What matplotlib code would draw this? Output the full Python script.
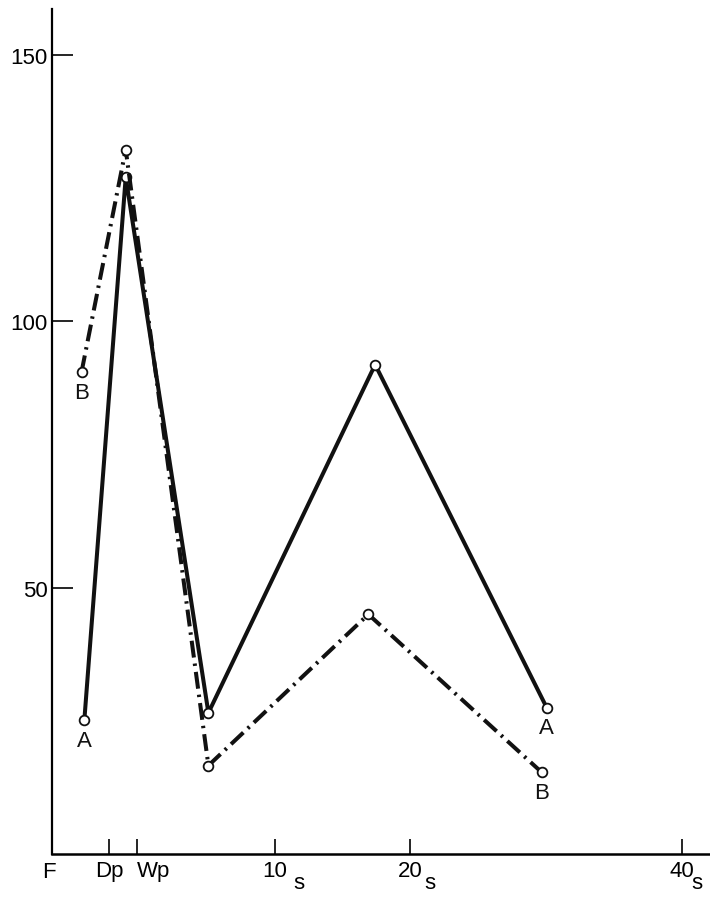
import numpy as np
import matplotlib
matplotlib.use('Agg')
import matplotlib.pyplot as plt

# x in seconds after Wp (F and Dp sit left of zero)
tick_pos = [-6.45, -2.2, -0.15, 10, 20, 40]
tick_lab = ['F', 'Dp', 'Wp', '10', '20', '40']
sec_ticks = [10, 20, 40]
sub_shift = [17, 14, 11]

xa = [-4.05, -1.0, 5.1, 17.4, 30.05]
ya = [25.2, 127.1, 26.5, 91.9, 27.5]
xb = [-4.26, -1.0, 5.1, 16.9, 29.7]
yb = [90.5, 132.3, 16.6, 45.0, 15.3]

plt.rcParams['font.family'] = ['Liberation Sans', 'DejaVu Sans']

fig = plt.figure(figsize=(7.1, 9.03), dpi=100)
ax = fig.add_axes([0.073, 0.0532, 0.927, 0.9358])

ax.plot(xa, ya, '-', color='#111111', lw=2.9, marker='o', ms=7,
        mfc='white', mec='#111111', mew=1.3, zorder=3)
ax.plot(xb, yb, '-', color='#111111', lw=2.9, dashes=(4.2, 1.5, 0.6, 1.5),
        marker='o', ms=7, mfc='white', mec='#111111', mew=1.3, zorder=4)

# series letters under end points
for x, y, t in [(xa[0], ya[0], 'A'), (xa[-1], ya[-1], 'A'),
                (xb[0], yb[0], 'B'), (xb[-1], yb[-1], 'B')]:
    ax.annotate(t, (x, y), xytext=(0, -7), textcoords='offset points',
                ha='center', va='top', fontsize=16, color='#111111')

ax.set_xlim(-6.45, 42.1)
ax.set_ylim(0, 158.7)
ax.spines['top'].set_visible(False)
ax.spines['right'].set_visible(False)
ax.spines['left'].set_linewidth(1.6)
ax.spines['bottom'].set_linewidth(1.8)

ax.set_yticks([50, 100, 150])
ax.tick_params(axis='y', direction='in', length=15, width=1.2, pad=3,
               labelsize=16)
ax.set_xticks(tick_pos[1:])
ax.set_xticklabels(tick_lab[1:])
ax.tick_params(axis='x', direction='in', length=11, width=1.2, pad=4,
               labelsize=16)
ax.get_xticklabels()[1].set_horizontalalignment('left')
ax.annotate(tick_lab[0], (tick_pos[0], 0), xycoords=('data', 'axes fraction'),
            xytext=(-2, -5), textcoords='offset points', ha='center', va='top',
            fontsize=16)
for t, dx in zip(sec_ticks, sub_shift):
    ax.annotate('s', (t, 0), xycoords=('data', 'axes fraction'),
                xytext=(dx, -13), textcoords='offset points', ha='center',
                va='top', fontsize=16)

fig.savefig('out.png', dpi=100)
